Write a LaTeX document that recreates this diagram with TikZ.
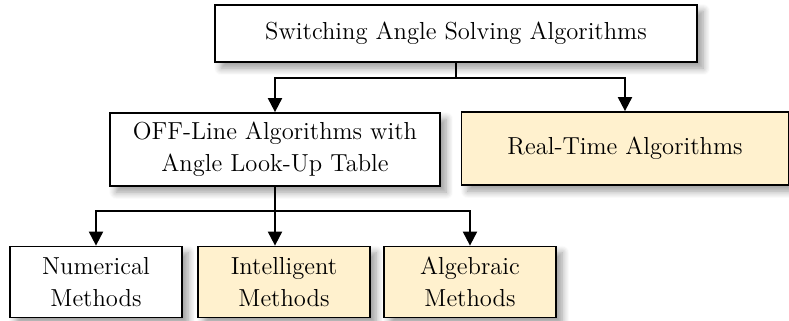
\documentclass[tikz,border=0pt]{standalone}
\usepackage{tikz}
\usetikzlibrary{shapes,arrows.meta,positioning,shadows.blur}
\definecolor{paleyellow}{RGB}{255,241,206}

\begin{document}
\begin{tikzpicture}[node distance=1.5cm, auto]

% Define styles
\tikzstyle{box} = [rectangle, draw, line width=1pt, fill=white, align=center, font=\fontsize{14}{18}\selectfont, blur shadow={shadow xshift=3.5pt, shadow yshift=-3.5pt, shadow blur radius=4pt, shadow blur steps=8}]
\tikzstyle{hl} = [fill=paleyellow]
\tikzstyle{arrow} = [line width=1.1pt, -{Triangle[length=8pt, width=8pt]}]
\tikzstyle{line} = [line width=1.1pt]

\useasboundingbox (0,0) rectangle (15.78,-6.4);

% Nodes
\node [box, minimum width=9.64cm, minimum height=1.14cm] (solving) at (9.12,-0.67) {Switching Angle Solving Algorithms};
\node [box, minimum width=6.6cm, minimum height=1.46cm] (offline) at (5.5,-2.99) {OFF-Line Algorithms with\\Angle Look-Up Table};
\node [box, hl, minimum width=6.54cm, minimum height=1.46cm] (realtime) at (12.5,-2.97) {Real-Time Algorithms};

% Method boxes
\node [box, minimum width=3.44cm, minimum height=1.42cm] (numerical) at (1.92,-5.64) {Numerical\\Methods};
\node [box, hl, minimum width=3.44cm, minimum height=1.42cm, right of=numerical, node distance=3.76cm] (intelligent) {Intelligent\\Methods};
\node [box, hl, minimum width=3.44cm, minimum height=1.42cm, right of=intelligent, node distance=3.72cm] (algebraic) {Algebraic\\Methods};

% Arrows
\draw [line] (solving.south) -- ++(0,-0.3) coordinate (split);
\draw [arrow] (split) -| (offline.north);
\draw [arrow] (split) -| (realtime.north);

\draw [line] (offline.south) -- ++(0,-0.48) coordinate (fork);
\draw [arrow] (fork) -| (numerical.north);
\draw [arrow] (fork) -- (fork |- intelligent.north);
\draw [arrow] (fork) -| (algebraic.north);

\end{tikzpicture}
\end{document}
